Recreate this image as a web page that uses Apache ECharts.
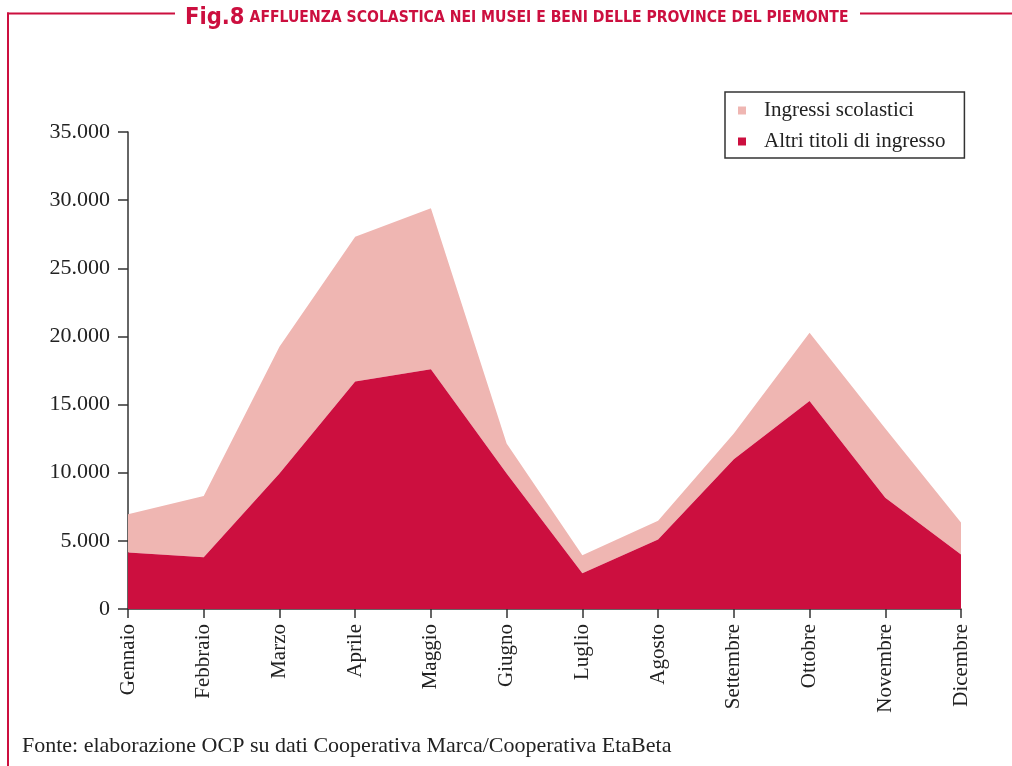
<!DOCTYPE html>
<html><head><meta charset="utf-8">
<script src="https://cdn.jsdelivr.net/npm/echarts@6/dist/echarts.min.js"></script>
<style>html,body{margin:0;padding:0;background:#fff}#c{width:1012px;height:766px}</style>
</head><body><div id="c"></div>
<script>
const months = ['Gennaio','Febbraio','Marzo','Aprile','Maggio','Giugno','Luglio','Agosto','Settembre','Ottobre','Novembre','Dicembre'];
const altriTitoli = [4150, 3800, 9950, 16700, 17600, 9950, 2620, 5100, 10980, 15270, 8170, 4000];
const ingressiScolastici = [2800, 4500, 9300, 10620, 11800, 2200, 1320, 1380, 1900, 5000, 5080, 2350];
const yTicks = [0, 5000, 10000, 15000, 20000, 25000, 30000, 35000];

const RED = '#cc0f3f', PINK = '#efb6b2', FRAME = '#cc0f3f';
const serif = '"Liberation Serif", "DejaVu Serif", serif';
const fmt = v => v === 0 ? '0' : String(v).replace(/\B(?=(\d{3})+(?!\d))/g, '.');

const chart = echarts.init(document.getElementById('c'));
chart.setOption({
  animation: false,
  title: {
    text: '{a|Fig.8} {b|AFFLUENZA SCOLASTICA NEI MUSEI E BENI DELLE PROVINCE DEL PIEMONTE}',
    left: 180, top: 1,
    textStyle: {
      rich: {
        a: {fontFamily: '"DejaVu Sans Condensed", "DejaVu Sans", sans-serif', fontWeight: 'bold', fontSize: 23.5, color: FRAME},
        b: {fontFamily: '"DejaVu Sans Condensed", "DejaVu Sans", sans-serif', fontWeight: 'bold', fontSize: 15.6, color: FRAME}
      }
    }
  },
  graphic: [
    {type: 'line', shape: {x1: 7, y1: 13.5, x2: 175, y2: 13.5}, style: {stroke: FRAME, lineWidth: 2}},
    {type: 'line', shape: {x1: 860, y1: 13.5, x2: 1012, y2: 13.5}, style: {stroke: FRAME, lineWidth: 2}},
    {type: 'line', shape: {x1: 8, y1: 12.5, x2: 8, y2: 766}, style: {stroke: FRAME, lineWidth: 2}},
    {type: 'text', left: 22, top: 735, style: {text: 'Fonte: elaborazione OCP su dati Cooperativa Marca/Cooperativa EtaBeta', font: '22px ' + serif, fill: '#222'}}
  ],
  legend: {
    data: ['Ingressi scolastici', 'Altri titoli di ingresso'],
    orient: 'vertical',
    left: 725, top: 92,
    padding: [8, 19, 6, 13],
    itemGap: 10,
    itemWidth: 8, itemHeight: 8,
    icon: 'rect',
    borderColor: '#333', borderWidth: 1.5,
    textStyle: {fontFamily: serif, fontSize: 21, color: '#222', padding: [0, 0, 0, 13]}
  },
  grid: {left: 128, right: 51, top: 132, bottom: 157},
  xAxis: {
    type: 'category', data: months, boundaryGap: false,
    axisLine: {lineStyle: {color: '#333', width: 1.5}},
    axisTick: {show: true, alignWithLabel: true, length: 9, lineStyle: {color: '#333', width: 1.5}},
    axisLabel: {rotate: 90, fontFamily: serif, fontSize: 21, color: '#222', margin: 15, interval: 0}
  },
  yAxis: {
    type: 'value', min: yTicks[0], max: yTicks[yTicks.length - 1], interval: 5000,
    axisLine: {show: true, lineStyle: {color: '#333', width: 1.5}},
    axisTick: {show: true, length: 10, lineStyle: {color: '#333', width: 1.5}},
    splitLine: {show: false},
    axisLabel: {fontFamily: serif, fontSize: 22, color: '#222', margin: 18, formatter: fmt}
  },
  series: [
    {name: 'Altri titoli di ingresso', type: 'line', stack: 'tot', data: altriTitoli, symbol: 'none',
      lineStyle: {width: 0}, areaStyle: {color: RED, opacity: 1}, itemStyle: {color: RED}, z: 3},
    {name: 'Ingressi scolastici', type: 'line', stack: 'tot', data: ingressiScolastici, symbol: 'none',
      lineStyle: {width: 0}, areaStyle: {color: PINK, opacity: 1}, itemStyle: {color: PINK}, z: 2}
  ]
});
</script></body></html>
